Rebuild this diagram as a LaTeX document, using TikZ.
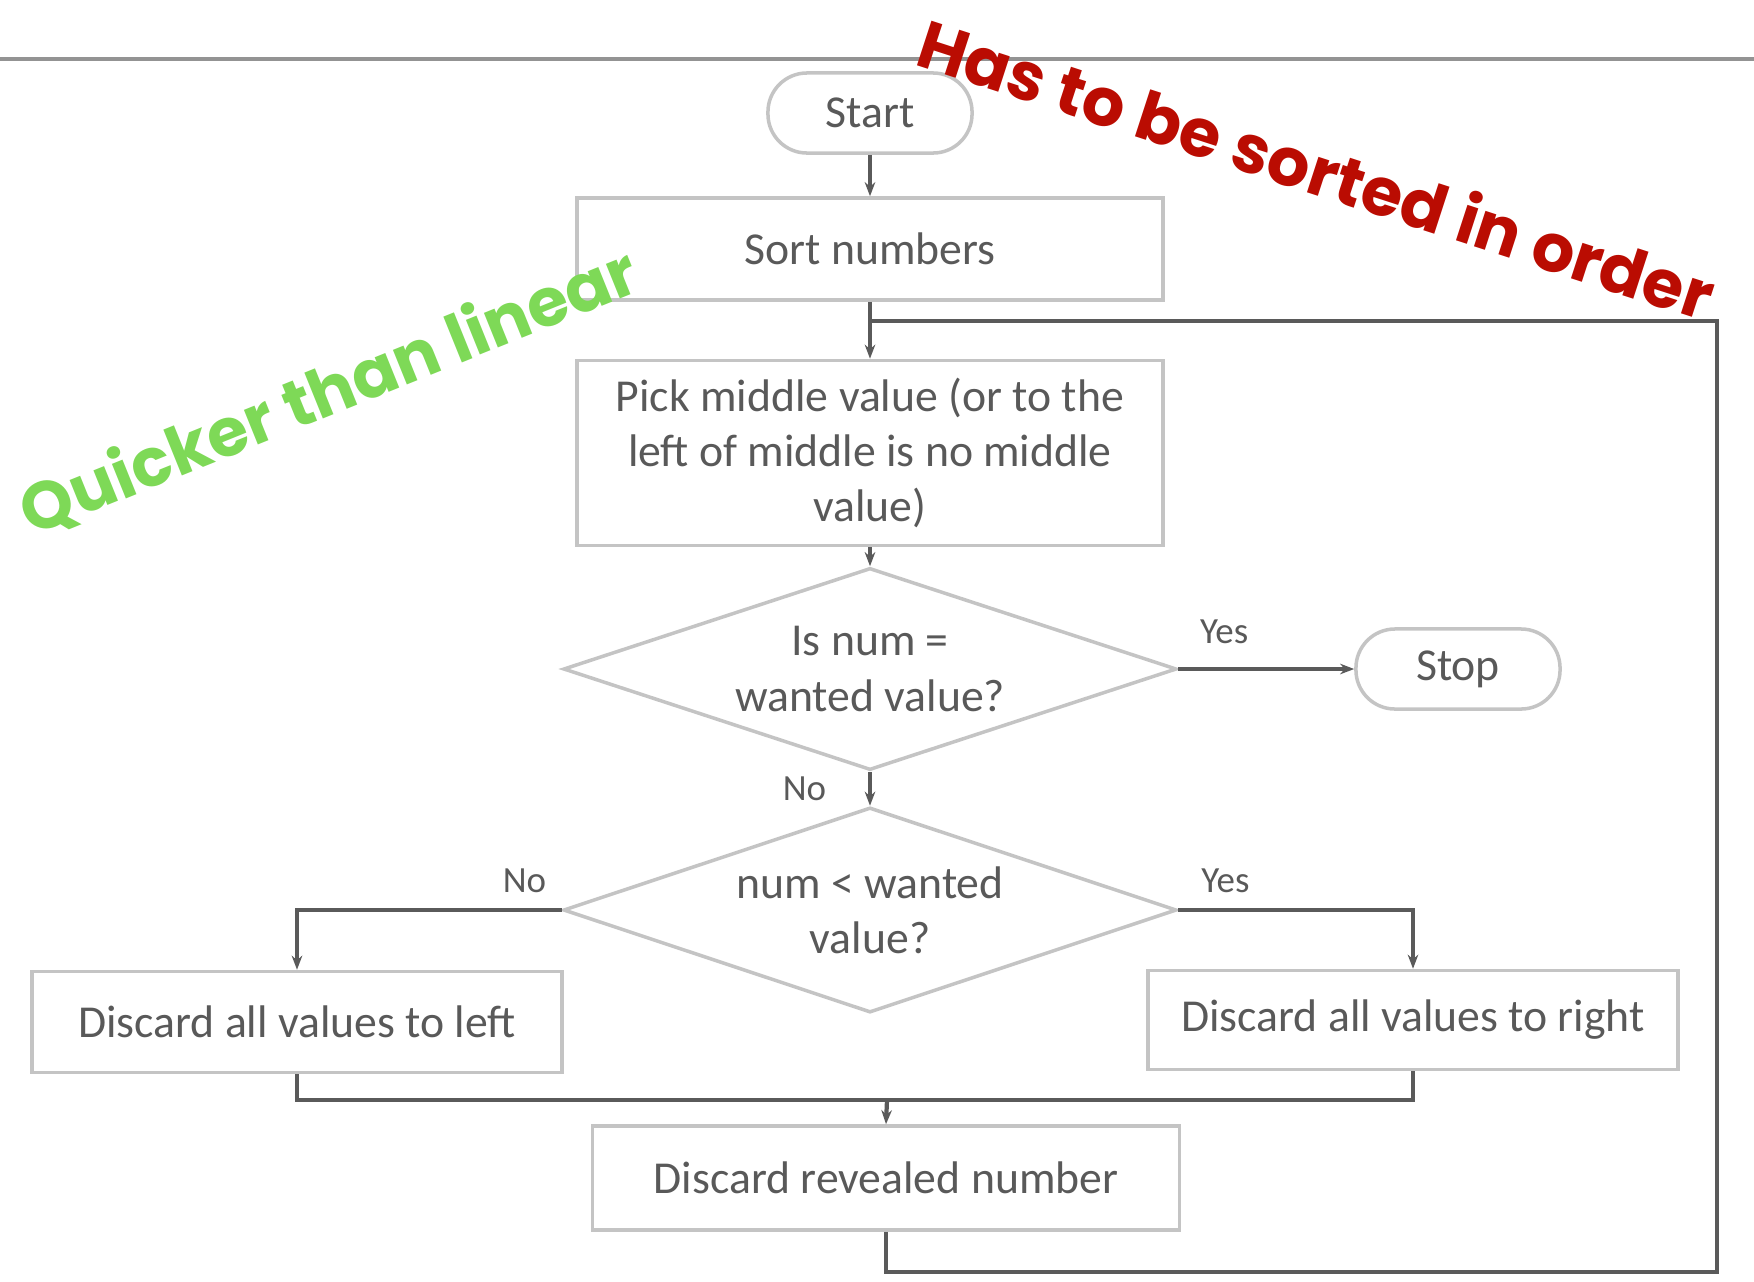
\documentclass[tikz,border=0pt]{standalone}
\usepackage{fontspec}
\setmainfont{Carlito}
\newfontfamily\notefont{Poppins}
\usepackage{xcolor}
\usepackage{tikz}
\usetikzlibrary{shapes.geometric, arrows.meta, positioning}

\definecolor{boxgray}{HTML}{C4C4C4}
\definecolor{linegray}{HTML}{5A5A5A}
\definecolor{textgray}{HTML}{595959}
\definecolor{notegreen}{HTML}{7ED957}
\definecolor{notered}{HTML}{BA0C02}

\begin{document}
\begin{tikzpicture}[x=0.01cm,y=-0.01cm]
\tikzstyle{term}=[draw=boxgray,line width=1pt,rounded corners=0.39cm,minimum width=2.04cm,minimum height=0.8cm,text=textgray,font=\fontsize{13}{15.7}\selectfont]
\tikzstyle{box}=[draw=boxgray,line width=1pt,inner sep=0pt,align=center,text=textgray,font=\fontsize{13}{15.7}\selectfont]
\tikzstyle{decision}=[diamond,draw=boxgray,line width=1pt,inner sep=0pt,aspect=3,minimum width=6.13cm,minimum height=2.02cm,align=center,text=textgray,font=\fontsize{13}{15.7}\selectfont]
\tikzstyle{line}=[draw=linegray,line width=1.2pt]
\tikzstyle{arrow}=[line,-{Stealth[length=4pt,width=3pt]}]
\tikzstyle{lbl}=[text=textgray,font=\fontsize{10.5}{12}\selectfont]
\tikzstyle{note}=[font=\notefont\bfseries\fontsize{19}{22}\selectfont]

\useasboundingbox (0,0) rectangle (1754,1281);

% Rule at the top
\draw[draw=gray!85,line width=1.2pt] (0,59) -- (1754,59);

% Steps
\node[term] (start) at (870,113) {Start};
\node[box,minimum width=5.86cm,minimum height=1.02cm] (sort) at (870,249) {Sort numbers};
\node[box,minimum width=5.86cm,minimum height=1.85cm] (pick) at (870,453) {Pick middle value (or to the\\left of middle is no middle\\value)};
\node[decision] (isnum) at (870,669) {Is num =\\wanted value?};
\node[term] (stop) at (1458,669) {Stop};
\node[decision,minimum height=2.05cm] (less) at (870,910) {num < wanted\\value?};
\node[box,minimum width=5.3cm,minimum height=1.01cm] (left) at (297,1022) {Discard all values to left};
\node[box,minimum width=5.3cm,minimum height=0.99cm] (right) at (1413,1020) {Discard all values to right};
\node[box,minimum width=5.87cm,minimum height=1.04cm] (reveal) at (886,1178) {Discard revealed number};

% Junctions
\coordinate (loop) at (870,321);
\coordinate (corner) at (1717,1272);
\coordinate (join) at (887,1100);

% Connectors
\draw[arrow] (start) -- (sort);
\draw[arrow] (sort) -- (pick);
\draw[arrow] (pick) -- (isnum);
\draw[arrow] (isnum) -- node[lbl,above=0.11cm,pos=0.26]{Yes} (stop);
\draw[arrow] (isnum) -- node[lbl,left=0.3cm]{No} (less);
\draw[arrow] (less.west) -| node[lbl,above=0.03cm,pos=0.07]{No} (left.north);
\draw[arrow] (less.east) -| node[lbl,above=0.03cm,pos=0.1]{Yes} (right.north);
\draw[line] (left.south) |- (join);
\draw[line] (right.south) |- (join);
\draw[arrow] (join) -- (reveal.north);
\draw[line] (reveal.south) |- (corner) |- (loop);

% Notes
\node[note,text=notered,rotate=-18] (sorted) at (1317,168) {Has to be sorted in order};
\node[note,text=notegreen,rotate=22] (quick) at (329,392) {Quicker than linear};

\end{tikzpicture}
\end{document}
